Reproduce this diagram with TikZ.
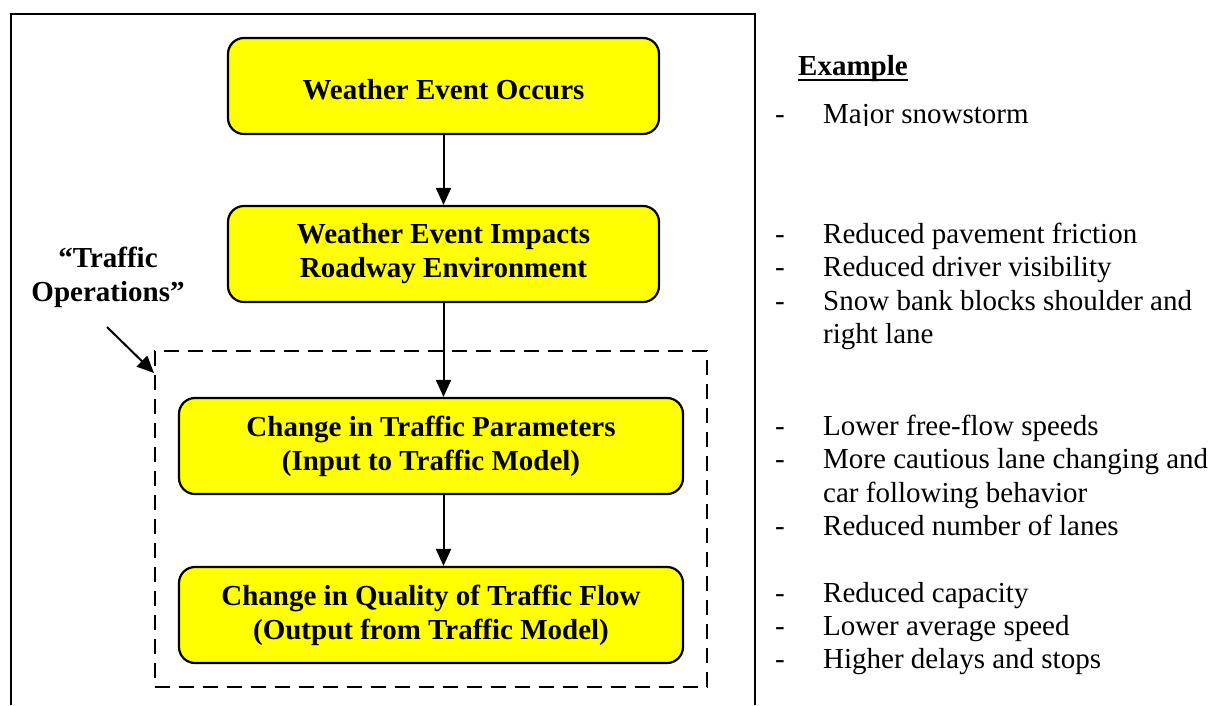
\documentclass[tikz,border=0pt]{standalone}
\usepackage{fontspec}
\setmainfont{Liberation Serif}
\usetikzlibrary{arrows.meta}
\definecolor{boxyellow}{RGB}{255,255,0}
\begin{document}
\begin{tikzpicture}[x=1pt,y=-1pt,
  txt/.style={font=\fontsize{29}{34}\selectfont},
  flowbox/.style={draw=black, line width=2.2pt, fill=boxyellow, rounded corners=16pt,
    minimum height=96pt, inner sep=0pt, align=center,
    font=\fontsize{29}{34}\selectfont\bfseries},
  opsframe/.style={draw=black, line width=2pt, dash pattern=on 15pt off 9pt,
    minimum width=552pt, minimum height=336pt, inner sep=0pt},
  flowarrow/.style={line width=2pt, -{Triangle[length=17pt,width=15pt]}},
  outerframe/.style={line width=2.4pt},
  note/.style={txt, anchor=base west, inner sep=0pt}]
\useasboundingbox (0,0) rectangle (1216,705);

% outer frame, open at the bottom
\coordinate (fBL) at (11,705);
\coordinate (fTL) at (11,14);
\coordinate (fTR) at (755,14);
\coordinate (fBR) at (755,705);
\draw[outerframe] (fBL) -- (fTL) -- (fTR) -- (fBR);

% traffic operations group
\node[opsframe] (ops) at (431,519) {};

% flow boxes
\node[flowbox, minimum width=431pt] (occurs) at (443.5,86) {\raisebox{-3.5pt}[\height][0pt]{Weather Event Occurs}};
\node[flowbox, minimum width=431pt] (impacts) at (443.5,254) {Weather Event Impacts\\Roadway Environment};
\node[flowbox, minimum width=504pt] (params) at (431,446) {Change in Traffic Parameters\\(Input to Traffic Model)};
\node[flowbox, minimum width=504pt] (quality) at (431,615) {Change in Quality of Traffic Flow\\(Output from Traffic Model)};

% flow arrows
\draw[flowarrow] (occurs.south) -- (impacts.north);
\draw[flowarrow] (impacts.south) -- (impacts.south |- params.north);
\draw[flowarrow] (impacts.south |- params.south) -- (impacts.south |- quality.north);

% group label
\node[txt, font=\fontsize{29}{34}\selectfont\bfseries, align=center, inner sep=0pt]
  (opslabel) at (108,277) {“Traffic\\Operations”};
\coordinate (opsArrowStart) at (107,327);
\draw[flowarrow] (opsArrowStart) -- ([yshift=-23pt]ops.north west);

% examples column
\node[note, font=\fontsize{29}{34}\selectfont\bfseries] (exhead) at (798,75) {Example};
\draw[line width=2pt] ([yshift=1pt]exhead.south west) -- ([yshift=1pt]exhead.south east);

\begin{scope}
  \clip (760,40) rectangle (1216,125);
  \node[note] (d1) at (775,123) {-};
  \node[note] (t1) at (823,123) {Major snowstorm};
\end{scope}

\node[note] (d2) at (775,243) {-};
\node[note] (t2) at (823,243) {Reduced pavement friction};
\node[note] (d3) at (775,276) {-};
\node[note] (t3) at (823,276) {Reduced driver visibility};
\node[note] (d4) at (775,310) {-};
\node[note] (t4) at (823,310) {Snow bank blocks shoulder and};
\node[note] (t4b) at (823,343) {right lane};

\node[note] (d5) at (775,435) {-};
\node[note] (t5) at (823,435) {Lower free-flow speeds};
\node[note] (d6) at (775,468) {-};
\node[note] (t6) at (823,468) {More cautious lane changing and};
\node[note] (t6b) at (823,502) {car following behavior};
\node[note] (d7) at (775,535) {-};
\node[note] (t7) at (823,535) {Reduced number of lanes};

\node[note] (d8) at (775,602) {-};
\node[note] (t8) at (823,602) {Reduced capacity};
\node[note] (d9) at (775,635) {-};
\node[note] (t9) at (823,635) {Lower average speed};
\node[note] (d10) at (775,668) {-};
\node[note] (t10) at (823,668) {Higher delays and stops};
\end{tikzpicture}
\end{document}
